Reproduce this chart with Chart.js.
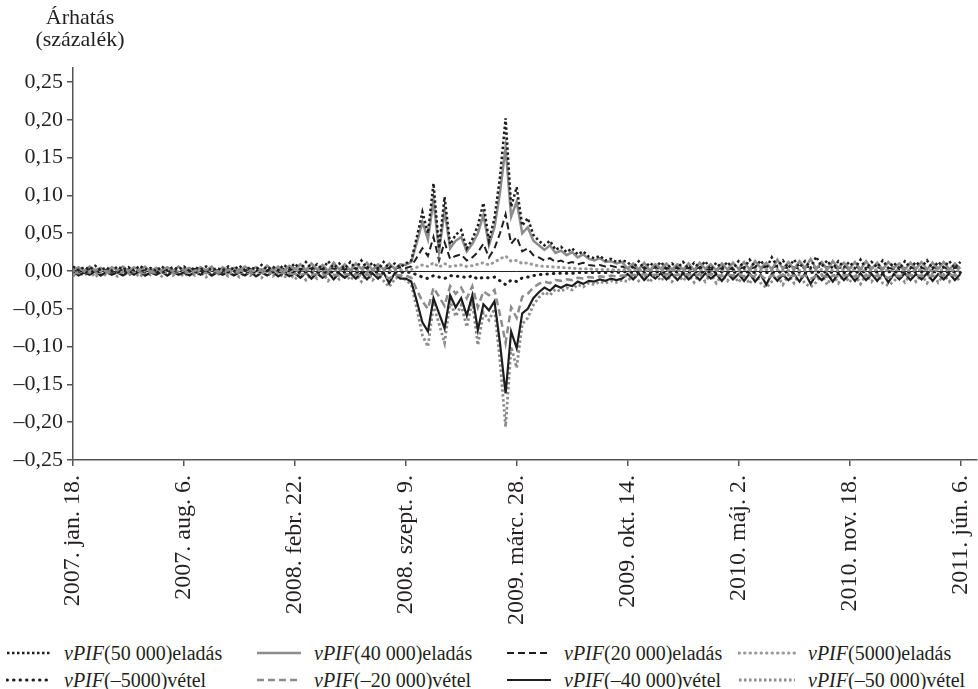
<!DOCTYPE html>
<html lang="hu">
<head>
<meta charset="utf-8">
<script src="https://cdn.jsdelivr.net/npm/chart.js@4.4.1/dist/chart.umd.min.js"></script>
<style>
  body { margin: 0; background: #fff; font-family: "Liberation Serif", "Times New Roman", serif; color: #231f20; }
  #wrap { position: relative; width: 978px; height: 689px; overflow: hidden; }
  #c { position: absolute; left: 0; top: 0; }
  #ytitle { position: absolute; left: 18px; top: 6px; width: 124px; text-align: center; font-size: 22px; line-height: 22px; }
  .lg { position: absolute; height: 22px; font-size: 20px; line-height: 22px; white-space: nowrap; display: flex; align-items: center; }
  .lg svg { margin-right: 12px; }
</style>
</head>
<body>
<div id="wrap">
  <canvas id="c" width="978" height="630"></canvas>
  <div id="ytitle">Árhatás<br>(százalék)</div>
  <div id="legend"></div>
</div>
<script>
// 10 napos lépés, 2007. jan. 18-tól (nap = index * 10)
const tickDays = [0, 200, 400, 600, 800, 1000, 1200, 1400, 1600];
const tickLabels = ["2007. jan. 18.", "2007. aug. 6.", "2008. febr. 22.", "2008. szept. 9.",
  "2009. márc. 28.", "2009. okt. 14.", "2010. máj. 2.", "2010. nov. 18.", "2011. jún. 6."];
const yTicks = [-0.25, -0.2, -0.15, -0.1, -0.05, 0, 0.05, 0.1, 0.15, 0.2, 0.25];

const seriesNames = ["vPIF(50 000)eladás", "vPIF(40 000)eladás", "vPIF(20 000)eladás", "vPIF(5000)eladás",
  "vPIF(–5000)vétel", "vPIF(–20 000)vétel", "vPIF(–40 000)vétel", "vPIF(–50 000)vétel"];

const sell50000 = [
  0.006, 0.001, 0.005, 0.002, 0.007, 0.001, 0.005, 0.000, 0.006, 0.002,
  0.005, 0.001, 0.007, 0.002, 0.004, 0.000, 0.006, 0.001, 0.005, 0.002,
  0.006, 0.000, 0.005, 0.002, 0.006, 0.001, 0.004, 0.001, 0.006, 0.002,
  0.007, 0.001, 0.005, 0.002, 0.008, 0.002, 0.006, 0.001, 0.008, 0.003,
  0.010, 0.002, 0.012, 0.003, 0.009, 0.002, 0.013, 0.004, 0.010, 0.003,
  0.012, 0.003, 0.014, 0.004, 0.011, 0.002, 0.012, 0.004, 0.010, 0.005,
  0.010, 0.014, 0.045, 0.078, 0.050, 0.116, 0.030, 0.098, 0.035, 0.048,
  0.054, 0.030, 0.042, 0.060, 0.090, 0.040, 0.070, 0.125, 0.202, 0.085,
  0.111, 0.060, 0.070, 0.048, 0.040, 0.034, 0.040, 0.028, 0.032, 0.025,
  0.030, 0.022, 0.026, 0.019, 0.017, 0.020, 0.014, 0.016, 0.012, 0.014,
  0.012, 0.004, 0.013, 0.003, 0.011, 0.005, 0.012, 0.003, 0.010, 0.004,
  0.012, 0.003, 0.011, 0.004, 0.013, 0.002, 0.011, 0.004, 0.012, 0.003,
  0.013, 0.004, 0.015, 0.005, 0.014, 0.003, 0.018, 0.006, 0.014, 0.004,
  0.015, 0.005, 0.013, 0.004, 0.019, 0.006, 0.014, 0.003, 0.013, 0.005,
  0.012, 0.004, 0.015, 0.003, 0.012, 0.005, 0.014, 0.004, 0.011, 0.003,
  0.013, 0.004, 0.012, 0.005, 0.014, 0.003, 0.012, 0.005, 0.013, 0.004, 0.012
];
const sell40000 = [
  0.001, 0.005, 0.000, 0.006, 0.001, 0.004, -0.001, 0.005, 0.001, 0.006,
  0.000, 0.005, 0.001, 0.006, -0.001, 0.004, 0.001, 0.005, 0.000, 0.006,
  0.001, 0.004, 0.000, 0.005, 0.001, 0.006, -0.001, 0.005, 0.001, 0.004,
  0.000, 0.006, 0.001, 0.005, 0.000, 0.007, 0.001, 0.006, 0.000, 0.007,
  0.002, 0.009, 0.001, 0.010, 0.002, 0.008, 0.000, 0.011, 0.002, 0.009,
  0.001, 0.010, 0.003, 0.011, 0.001, 0.009, 0.002, 0.010, 0.003, 0.009,
  0.008, 0.012, 0.038, 0.065, 0.042, 0.094, 0.026, 0.080, 0.030, 0.040,
  0.045, 0.026, 0.036, 0.050, 0.074, 0.034, 0.058, 0.104, 0.164, 0.072,
  0.092, 0.050, 0.058, 0.040, 0.034, 0.028, 0.034, 0.024, 0.027, 0.021,
  0.025, 0.018, 0.022, 0.016, 0.014, 0.017, 0.012, 0.013, 0.010, 0.012,
  0.003, 0.010, 0.002, 0.011, 0.001, 0.009, 0.003, 0.010, 0.002, 0.009,
  0.002, 0.010, 0.001, 0.011, 0.003, 0.009, 0.001, 0.010, 0.002, 0.011,
  0.003, 0.012, 0.002, 0.013, 0.004, 0.011, 0.002, 0.015, 0.003, 0.012,
  0.002, 0.013, 0.004, 0.016, 0.003, 0.012, 0.002, 0.013, 0.004, 0.011,
  0.003, 0.012, 0.002, 0.013, 0.003, 0.011, 0.002, 0.012, 0.004, 0.010,
  0.002, 0.011, 0.003, 0.012, 0.002, 0.011, 0.003, 0.012, 0.002, 0.010, 0.003
];
const sell20000 = [
  0.001, 0.002, 0.000, 0.003, 0.001, 0.002, 0.001, 0.002, 0.000, 0.002,
  0.002, 0.001, 0.002, 0.000, 0.001, 0.003, 0.001, 0.002, 0.001, 0.000,
  0.002, 0.001, 0.003, 0.001, 0.000, 0.002, 0.001, 0.002, 0.003, 0.001,
  0.002, 0.001, 0.003, 0.001, 0.002, 0.001, 0.003, 0.002, 0.003, 0.001,
  0.004, 0.002, 0.005, 0.003, 0.004, 0.002, 0.005, 0.003, 0.004, 0.002,
  0.005, 0.003, 0.005, 0.004, 0.003, 0.005, 0.003, 0.004, 0.003, 0.005,
  0.004, 0.006, 0.018, 0.030, 0.020, 0.045, 0.014, 0.038, 0.016, 0.020,
  0.022, 0.014, 0.018, 0.025, 0.036, 0.018, 0.030, 0.050, 0.075, 0.036,
  0.045, 0.026, 0.030, 0.021, 0.018, 0.014, 0.017, 0.012, 0.014, 0.010,
  0.012, 0.009, 0.011, 0.008, 0.007, 0.008, 0.006, 0.007, 0.005, 0.006,
  0.004, 0.005, 0.003, 0.005, 0.003, 0.005, 0.003, 0.004, 0.003, 0.004,
  0.003, 0.004, 0.002, 0.005, 0.003, 0.002, 0.004, 0.003, 0.004, 0.002,
  0.003, 0.005, 0.003, 0.005, 0.004, 0.006, 0.004, 0.007, 0.005, 0.004,
  0.005, 0.003, 0.005, 0.006, 0.004, 0.007, 0.005, 0.005, 0.004, 0.005,
  0.004, 0.006, 0.003, 0.005, 0.004, 0.005, 0.003, 0.004, 0.003, 0.005,
  0.004, 0.005, 0.003, 0.004, 0.003, 0.005, 0.004, 0.005, 0.003, 0.004, 0.005
];
const sell5000 = [
  0.000, 0.001, 0.000, 0.001, 0.001, 0.000, 0.001, 0.000, 0.001, 0.000,
  0.001, 0.000, 0.001, 0.000, 0.000, 0.001, 0.000, 0.001, 0.001, 0.000,
  0.001, 0.000, 0.001, 0.001, 0.000, 0.001, 0.000, 0.000, 0.001, 0.000,
  0.001, 0.000, 0.001, 0.000, 0.001, 0.001, 0.001, 0.000, 0.001, 0.000,
  0.001, 0.001, 0.002, 0.001, 0.001, 0.001, 0.002, 0.001, 0.001, 0.001,
  0.002, 0.001, 0.002, 0.001, 0.001, 0.002, 0.001, 0.001, 0.001, 0.002,
  0.001, 0.002, 0.005, 0.008, 0.006, 0.011, 0.005, 0.010, 0.006, 0.007,
  0.008, 0.006, 0.007, 0.009, 0.011, 0.008, 0.012, 0.016, 0.020, 0.013,
  0.014, 0.010, 0.011, 0.008, 0.007, 0.006, 0.006, 0.005, 0.005, 0.004,
  0.004, 0.003, 0.003, 0.003, 0.002, 0.002, 0.002, 0.002, 0.001, 0.002,
  0.001, 0.002, 0.001, 0.001, 0.001, 0.002, 0.001, 0.001, 0.001, 0.001,
  0.001, 0.001, 0.001, 0.002, 0.001, 0.001, 0.001, 0.001, 0.002, 0.001,
  0.001, 0.002, 0.001, 0.002, 0.001, 0.002, 0.001, 0.002, 0.001, 0.001,
  0.002, 0.001, 0.001, 0.002, 0.001, 0.002, 0.001, 0.001, 0.001, 0.002,
  0.001, 0.002, 0.001, 0.001, 0.001, 0.002, 0.001, 0.001, 0.001, 0.002,
  0.001, 0.001, 0.001, 0.002, 0.001, 0.001, 0.001, 0.002, 0.001, 0.001, 0.001
];
const buy5000 = [
  -0.001, 0.000, -0.001, -0.001, 0.000, -0.001, 0.000, -0.001, -0.001, 0.000,
  -0.001, -0.001, 0.000, -0.001, 0.000, -0.001, -0.001, 0.000, -0.001, 0.000,
  -0.001, 0.000, -0.001, -0.001, 0.000, -0.001, 0.000, -0.001, -0.001, 0.000,
  -0.001, -0.001, 0.000, -0.001, -0.001, 0.000, -0.001, -0.001, 0.000, -0.001,
  -0.001, -0.002, -0.001, -0.001, -0.002, -0.001, -0.002, -0.001, -0.002, -0.001,
  -0.002, -0.001, -0.002, -0.001, -0.002, -0.001, -0.002, -0.002, -0.001, -0.002,
  -0.001, -0.002, -0.005, -0.008, -0.010, -0.006, -0.008, -0.010, -0.006, -0.007,
  -0.007, -0.009, -0.006, -0.011, -0.008, -0.009, -0.008, -0.013, -0.018, -0.012,
  -0.014, -0.009, -0.008, -0.006, -0.005, -0.004, -0.004, -0.003, -0.003, -0.003,
  -0.003, -0.002, -0.002, -0.002, -0.002, -0.002, -0.002, -0.001, -0.002, -0.001,
  -0.001, -0.002, -0.001, -0.001, -0.002, -0.001, -0.001, -0.002, -0.001, -0.001,
  -0.002, -0.001, -0.001, -0.002, -0.001, -0.001, -0.002, -0.001, -0.001, -0.002,
  -0.001, -0.002, -0.001, -0.002, -0.001, -0.002, -0.002, -0.001, -0.002, -0.001,
  -0.002, -0.001, -0.002, -0.002, -0.001, -0.002, -0.001, -0.002, -0.001, -0.002,
  -0.001, -0.002, -0.001, -0.001, -0.002, -0.001, -0.002, -0.001, -0.001, -0.002,
  -0.001, -0.002, -0.001, -0.001, -0.002, -0.001, -0.001, -0.002, -0.001, -0.001, -0.002
];
const buy20000 = [
  -0.002, -0.003, -0.001, -0.002, -0.003, -0.002, -0.003, -0.001, -0.002, -0.002,
  -0.003, -0.001, -0.002, -0.003, -0.002, -0.002, -0.001, -0.003, -0.002, -0.002,
  -0.001, -0.003, -0.002, -0.002, -0.003, -0.001, -0.002, -0.002, -0.003, -0.002,
  -0.002, -0.003, -0.002, -0.003, -0.002, -0.004, -0.002, -0.003, -0.002, -0.003,
  -0.004, -0.005, -0.003, -0.005, -0.004, -0.006, -0.003, -0.005, -0.006, -0.004,
  -0.005, -0.004, -0.006, -0.005, -0.007, -0.004, -0.006, -0.010, -0.005, -0.006,
  -0.006, -0.009, -0.025, -0.040, -0.050, -0.022, -0.034, -0.046, -0.020, -0.030,
  -0.022, -0.036, -0.020, -0.048, -0.027, -0.032, -0.025, -0.058, -0.095, -0.048,
  -0.062, -0.034, -0.030, -0.022, -0.017, -0.014, -0.016, -0.012, -0.013, -0.011,
  -0.012, -0.009, -0.010, -0.008, -0.009, -0.007, -0.008, -0.006, -0.007, -0.006,
  -0.006, -0.005, -0.006, -0.004, -0.006, -0.005, -0.005, -0.004, -0.006, -0.005,
  -0.005, -0.004, -0.006, -0.005, -0.006, -0.004, -0.005, -0.007, -0.005, -0.006,
  -0.005, -0.007, -0.005, -0.008, -0.006, -0.011, -0.006, -0.007, -0.005, -0.007,
  -0.006, -0.008, -0.006, -0.010, -0.007, -0.006, -0.008, -0.006, -0.007, -0.005,
  -0.006, -0.008, -0.006, -0.007, -0.005, -0.007, -0.006, -0.009, -0.006, -0.007,
  -0.005, -0.006, -0.005, -0.007, -0.006, -0.007, -0.005, -0.006, -0.005, -0.006, -0.005
];
const buy40000 = [
  -0.001, -0.006, -0.002, -0.005, 0.000, -0.006, -0.001, -0.005, -0.002, -0.006,
  -0.001, -0.005, 0.000, -0.006, -0.002, -0.005, -0.001, -0.006, -0.001, -0.005,
  -0.002, -0.006, -0.001, -0.005, 0.000, -0.006, -0.002, -0.005, -0.001, -0.006,
  -0.002, -0.006, -0.001, -0.007, -0.002, -0.006, -0.001, -0.007, -0.002, -0.007,
  -0.003, -0.009, -0.002, -0.010, -0.003, -0.009, -0.002, -0.011, -0.003, -0.009,
  -0.003, -0.010, -0.002, -0.011, -0.003, -0.010, -0.002, -0.016, -0.003, -0.010,
  -0.010, -0.014, -0.040, -0.068, -0.080, -0.036, -0.056, -0.076, -0.032, -0.048,
  -0.036, -0.059, -0.032, -0.078, -0.044, -0.052, -0.040, -0.096, -0.162, -0.080,
  -0.102, -0.056, -0.050, -0.036, -0.028, -0.022, -0.026, -0.019, -0.022, -0.018,
  -0.020, -0.014, -0.017, -0.013, -0.014, -0.011, -0.013, -0.010, -0.012, -0.010,
  -0.004, -0.011, -0.003, -0.012, -0.004, -0.010, -0.003, -0.011, -0.004, -0.012,
  -0.003, -0.011, -0.004, -0.012, -0.003, -0.010, -0.004, -0.013, -0.003, -0.011,
  -0.004, -0.013, -0.003, -0.014, -0.005, -0.018, -0.004, -0.013, -0.005, -0.012,
  -0.004, -0.014, -0.003, -0.017, -0.005, -0.012, -0.004, -0.014, -0.003, -0.012,
  -0.004, -0.013, -0.003, -0.012, -0.004, -0.013, -0.003, -0.015, -0.004, -0.011,
  -0.003, -0.012, -0.004, -0.011, -0.003, -0.013, -0.004, -0.011, -0.003, -0.012, -0.004
];
const buy50000 = [
  -0.007, -0.001, -0.006, 0.000, -0.008, -0.002, -0.006, -0.001, -0.007, -0.002,
  -0.006, -0.001, -0.008, -0.002, -0.005, 0.000, -0.007, -0.001, -0.006, -0.002,
  -0.007, -0.001, -0.006, -0.002, -0.008, -0.001, -0.005, -0.002, -0.007, -0.001,
  -0.008, -0.002, -0.006, -0.001, -0.009, -0.002, -0.007, -0.002, -0.009, -0.003,
  -0.011, -0.003, -0.012, -0.004, -0.010, -0.002, -0.013, -0.004, -0.011, -0.003,
  -0.012, -0.004, -0.014, -0.003, -0.012, -0.005, -0.013, -0.021, -0.011, -0.006,
  -0.012, -0.018, -0.050, -0.085, -0.100, -0.045, -0.070, -0.095, -0.040, -0.060,
  -0.045, -0.074, -0.040, -0.098, -0.055, -0.065, -0.050, -0.120, -0.206, -0.100,
  -0.128, -0.070, -0.062, -0.045, -0.035, -0.028, -0.032, -0.024, -0.027, -0.022,
  -0.025, -0.018, -0.021, -0.016, -0.018, -0.014, -0.016, -0.013, -0.015, -0.012,
  -0.014, -0.004, -0.013, -0.005, -0.015, -0.003, -0.013, -0.005, -0.014, -0.004,
  -0.013, -0.005, -0.015, -0.003, -0.014, -0.004, -0.016, -0.005, -0.013, -0.004,
  -0.015, -0.005, -0.017, -0.004, -0.016, -0.022, -0.014, -0.006, -0.018, -0.005,
  -0.016, -0.004, -0.017, -0.021, -0.015, -0.005, -0.018, -0.004, -0.016, -0.005,
  -0.015, -0.004, -0.017, -0.005, -0.014, -0.003, -0.016, -0.019, -0.014, -0.005,
  -0.015, -0.004, -0.014, -0.005, -0.016, -0.003, -0.015, -0.005, -0.014, -0.004, -0.015
];

const seriesValues = [sell50000, sell40000, sell20000, sell5000, buy5000, buy20000, buy40000, buy50000];

// vonalstílusok
const BLACK = '#1e1e1e', GRAY = '#8c8c8c', LIGHT = '#9a9a9a';
const styles = [
  { color: BLACK, width: 2.5, dash: [2.5, 2.5], cap: 'butt' },
  { color: GRAY,  width: 2.5, dash: [],         cap: 'butt' },
  { color: BLACK, width: 2,   dash: [7, 4],     cap: 'butt' },
  { color: LIGHT, width: 3,   dash: [0.5, 5],   cap: 'round' },
  { color: BLACK, width: 3,   dash: [0.5, 6],   cap: 'round' },
  { color: GRAY,  width: 2.5, dash: [7, 4],     cap: 'butt' },
  { color: BLACK, width: 2.2, dash: [],         cap: 'butt' },
  { color: GRAY,  width: 2.8, dash: [2.5, 2.5], cap: 'butt' }
];

const datasets = seriesValues.map((vals, k) => ({
  label: seriesNames[k],
  data: vals.map((v, i) => ({ x: i * 10, y: v })),
  borderColor: styles[k].color,
  borderWidth: styles[k].width,
  borderDash: styles[k].dash,
  borderCapStyle: styles[k].cap,
  pointRadius: 0,
  tension: 0,
  fill: false
}));

// vékony nullvonal az adatok tartományában
const zeroLine = {
  id: 'zeroLine',
  beforeDatasetsDraw(chart) {
    const { ctx, scales: { x, y } } = chart;
    const yy = Math.round(y.getPixelForValue(0)) + 0.5;
    ctx.save();
    ctx.strokeStyle = '#222';
    ctx.lineWidth = 1;
    ctx.beginPath();
    ctx.moveTo(x.getPixelForValue(tickDays[0]), yy);
    ctx.lineTo(x.getPixelForValue(tickDays[tickDays.length - 1]), yy);
    ctx.stroke();
    ctx.restore();
  }
};

const fontFamily = '"Liberation Serif", "Times New Roman", serif';

new Chart(document.getElementById('c'), {
  type: 'line',
  data: { datasets: datasets },
  options: {
    responsive: false,
    animation: false,
    layout: { padding: { top: 68, right: 1, left: 0, bottom: 0 } },
    plugins: { legend: { display: false }, tooltip: { enabled: false } },
    scales: {
      x: {
        type: 'linear', min: 0, max: 1630,
        afterBuildTicks: s => { s.ticks = tickDays.map(v => ({ value: v })); },
        afterFit: s => { s.height = 170; s.paddingLeft = 0; s.paddingRight = 0; },
        border: { color: '#555', width: 1.5 },
        grid: { drawOnChartArea: false, color: '#555', lineWidth: 1.5, tickLength: 6 },
        ticks: {
          autoSkip: false, minRotation: 90, maxRotation: 90, padding: 9,
          color: '#231f20', font: { family: fontFamily, size: 24 },
          callback: (v, i) => tickLabels[i]
        }
      },
      y: {
        min: -0.25, max: 0.2686,
        afterBuildTicks: s => { s.ticks = yTicks.map(v => ({ value: v })); },
        afterFit: s => { s.width = 73; s.paddingTop = 0; s.paddingBottom = 0; },
        border: { color: '#555', width: 1.5 },
        grid: { drawOnChartArea: false, color: '#555', lineWidth: 1.5, tickLength: 6 },
        ticks: {
          padding: 4, color: '#231f20', font: { family: fontFamily, size: 22 },
          callback: v => v.toFixed(2).replace('.', ',').replace('-', '–')
        }
      }
    }
  },
  plugins: [zeroLine]
});

// jelmagyarázat: 2 sor x 4 oszlop
const colLeft = [6, 256, 506, 738];
const colSample = [46, 46, 46, 58];
const rowTop = [642, 669];
const legend = document.getElementById('legend');
const order = [[0, 1, 2, 3], [4, 5, 6, 7]];
order.forEach((row, r) => row.forEach((k, c) => {
  const st = styles[k];
  const w = colSample[c];
  const item = document.createElement('div');
  item.className = 'lg';
  item.style.left = colLeft[c] + 'px';
  item.style.top = rowTop[r] + 'px';
  const rest = seriesNames[k].replace('vPIF', '');
  item.innerHTML =
    '<svg width="' + w + '" height="10"><line x1="1" y1="5" x2="' + (w - 1) + '" y2="5" stroke="' + st.color +
    '" stroke-width="' + st.width + '" stroke-dasharray="' + (st.dash.length ? st.dash.join(' ') : 'none') +
    '" stroke-linecap="' + st.cap + '"/></svg><span><i>vPIF</i>' + rest + '</span>';
  legend.appendChild(item);
}));
</script>
</body>
</html>
